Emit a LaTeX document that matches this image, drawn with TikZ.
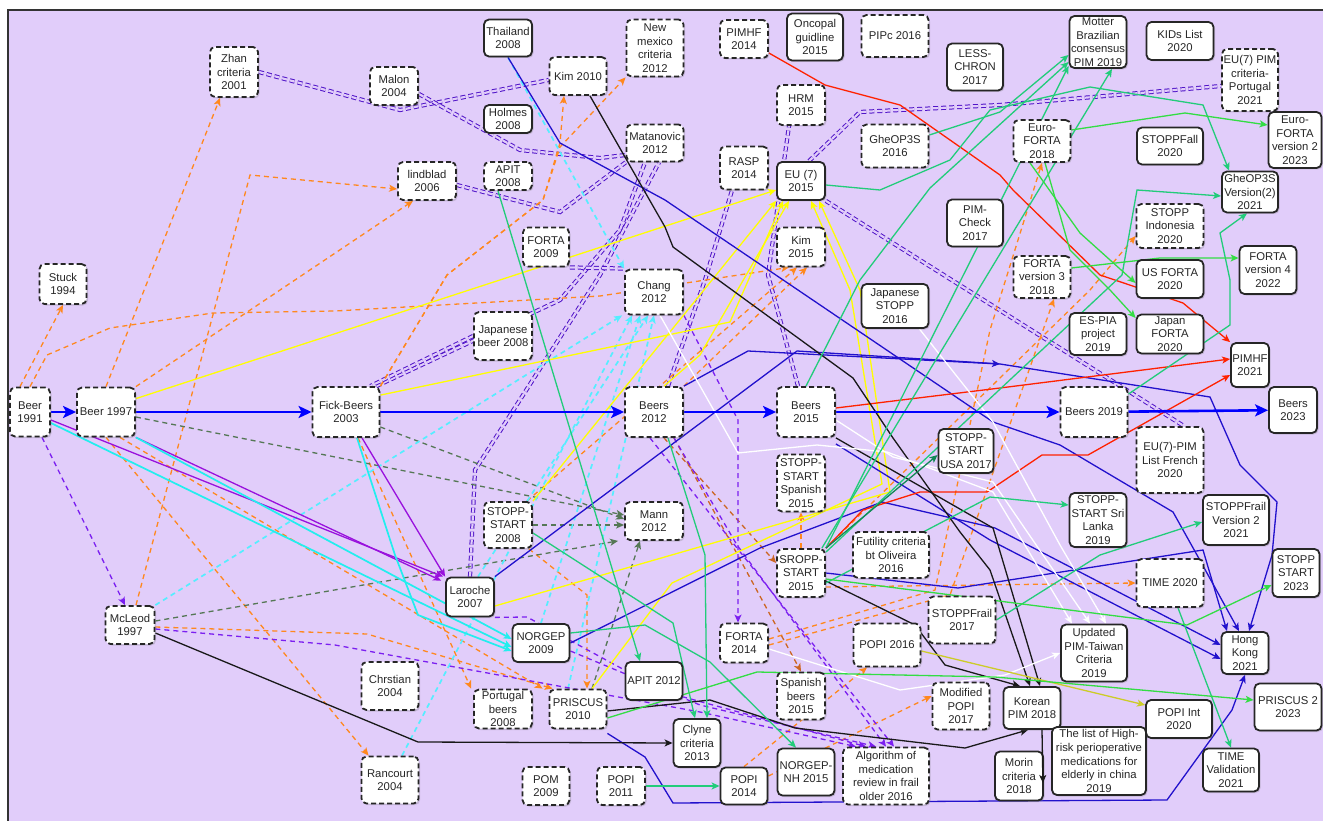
\documentclass[tikz,border=0pt]{standalone}
\usepackage{fontspec}
\setmainfont{Liberation Sans}
\usetikzlibrary{arrows.meta,shadows}
\pgfdeclarelayer{back}
\pgfdeclarelayer{edges}
\pgfsetlayers{back,edges,main}
\definecolor{lav}{RGB}{225,205,250}
\definecolor{bigblue}{RGB}{0,0,255}
\definecolor{lnblue}{RGB}{34,17,204}
\definecolor{lnred}{RGB}{255,34,0}
\definecolor{lnyel}{RGB}{255,255,0}
\definecolor{lnteal}{RGB}{34,204,122}
\definecolor{lngreen}{RGB}{51,221,68}
\definecolor{lndkgr}{RGB}{17,136,85}
\definecolor{lncyan}{RGB}{34,238,238}
\definecolor{lncyd}{RGB}{85,238,255}
\definecolor{lnviol}{RGB}{153,17,221}
\definecolor{lnpur}{RGB}{80,20,200}
\definecolor{lnvd}{RGB}{123,31,240}
\definecolor{lnor}{RGB}{255,136,30}
\definecolor{lnbr}{RGB}{204,102,34}
\definecolor{lngray}{RGB}{85,119,85}
\definecolor{lnolive}{RGB}{204,204,40}
\tikzset{
  >={Stealth[length=8pt,width=7pt,inset=2pt]},
  box/.style={rounded corners=5pt, fill=white, align=center, inner sep=1pt, text=black!85, line width=1.8pt,
    font=\fontsize{11.3}{13.6}\selectfont, drop shadow={shadow xshift=1.5pt, shadow yshift=-1.5pt, opacity=.3}},
  dbox/.style={box, draw=black!85, dash pattern=on 5pt off 3pt},
  sbox/.style={box, draw=black!85},
  sz/.style 2 args={minimum width=#1, minimum height=#2},
  lk/.style={line width=1.3pt, ->},
  bigarr/.style={draw=bigblue, line width=2.6pt, -{Stealth[length=13pt,width=12pt,inset=3pt]}},
  bl/.style={lk, draw=lnblue},
  rd/.style={lk, draw=lnred},
  bk/.style={lk, draw=black!90},
  wh/.style={lk, draw=white},
  yl/.style={lk, draw=lnyel},
  gn/.style={lk, draw=lnteal},
  lg/.style={lk, draw=lngreen},
  dg/.style={lk, draw=lndkgr},
  cy/.style={lk, draw=lncyan, line width=1.7pt},
  cyd/.style={lk, draw=lncyd, line width=1.7pt, dash pattern=on 5pt off 4pt},
  vi/.style={lk, draw=lnviol},
  pd/.style={draw=lnpur, line width=1pt, double=lav, double distance=2.2pt, dash pattern=on 5pt off 3pt},
  vd/.style={lk, draw=lnvd, dash pattern=on 5pt off 4pt},
  od/.style={lk, draw=lnor, dash pattern=on 5pt off 4pt},
  bd/.style={lk, draw=lnbr, dash pattern=on 5pt off 4pt},
  gd/.style={lk, draw=lngray, dash pattern=on 5pt off 4pt},
  ol/.style={lk, draw=lnolive}
}
\begin{document}
\begin{tikzpicture}[x=1pt, y=-1pt]
\useasboundingbox (0,0) rectangle (1323,821);
\begin{pgfonlayer}{back}
\fill[white] (0,0) rectangle (1323,821);
\fill[lav] (8,10) rectangle (1323,821);
\draw[black!80, line width=1.6pt] (8,821) -- (8,10) -- (1323,10);
\end{pgfonlayer}

\node[dbox, sz={40}{49}] (b91) at (30,412) {Beer\\1991};
\node[dbox, sz={58}{49}] (b97) at (106,412) {Beer 1997};
\node[dbox, sz={47}{40}] (stuck) at (63,284) {Stuck\\1994};
\node[dbox, sz={48}{50}] (zhan) at (234,72) {Zhan\\criteria\\2001};
\node[dbox, sz={48}{38}] (malon) at (394,86) {Malon\\2004};
\node[sbox, sz={48}{37}] (thai) at (508,38) {Thailand\\2008};
\node[dbox, sz={57}{38}] (kim10) at (578,76) {Kim 2010};
\node[dbox, sz={57}{57}] (nmex) at (655,48) {New\\mexico\\criteria\\2012};
\node[sbox, sz={48}{28}] (holmes) at (508,119) {Holmes\\2008};
\node[dbox, sz={57}{37}] (matan) at (655,143) {Matanovic\\2012};
\node[dbox, sz={58}{38}] (lind) at (427,181) {lindblad\\2006};
\node[dbox, sz={48}{28}] (apit08) at (508,176) {APIT\\2008};
\node[dbox, sz={46}{39}] (forta09) at (546,247) {FORTA\\2009};
\node[dbox, sz={48}{38}] (pimhf14) at (744,39) {PIMHF\\2014};
\node[sbox, sz={56}{47}] (oncopal) at (815,37) {Oncopal\\guidline\\2015};
\node[dbox, sz={67}{42}] (pipc) at (895,36) {PIPc 2016};
\node[sbox, sz={56}{47}] (less) at (975,67) {LESS-\\CHRON\\2017};
\node[dbox, sz={48}{40}] (hrm) at (801,105) {HRM\\2015};
\node[dbox, sz={67}{43}] (gheop16) at (895,146) {GheOP3S\\2016};
\node[dbox, sz={48}{43}] (rasp) at (744,168) {RASP\\2014};
\node[sbox, sz={48}{38}] (eu15) at (801,181) {EU (7)\\2015};
\node[dbox, sz={48}{39}] (kim15) at (801,247) {Kim\\2015};
\node[sbox, sz={56}{47}] (pimcheck) at (975,223) {PIM-\\Check\\2017};
\node[sbox, sz={57}{52}] (motter) at (1098,42) {Motter\\Brazilian\\consensus\\PIM 2019};
\node[sbox, sz={67}{38}] (kids) at (1180,41) {KIDs List\\2020};
\node[dbox, sz={56}{62}] (euport) at (1250,80) {EU(7) PIM\\criteria-\\Portugal\\2021};
\node[dbox, sz={57}{42}] (eurof18) at (1042,141) {Euro-\\FORTA\\2018};
\node[sbox, sz={66}{37}] (stoppfall) at (1170,146) {STOPPFall\\2020};
\node[sbox, sz={53}{56}] (eurof23) at (1295,140) {Euro-\\FORTA\\version 2\\2023};
\node[sbox, sz={56}{41}] (gheop21) at (1250,192) {GheOP3S\\Version(2)\\2021};
\node[dbox, sz={67}{44}] (stoppind) at (1170,226) {STOPP\\Indonesia\\2020};
\node[dbox, sz={57}{42}] (forta3) at (1042,277) {FORTA\\version 3\\2018};
\node[sbox, sz={67}{38}] (usforta) at (1170,279) {US FORTA\\2020};
\node[sbox, sz={57}{48}] (forta4) at (1268,270) {FORTA\\version 4\\2022};
\node[sbox, sz={57}{42}] (espia) at (1098,334) {ES-PIA\\project\\2019};
\node[sbox, sz={67}{39}] (japforta) at (1170,334) {Japan\\FORTA\\2020};
\node[sbox, sz={38}{44}] (pimhf21) at (1250,365) {PIMHF\\2021};
\node[sbox, sz={48}{46}] (b23) at (1293,410) {Beers\\2023};
\node[dbox, sz={67}{50}] (b19) at (1094,412) {Beers 2019};
\node[dbox, sz={67}{66}] (eufr) at (1170,460) {EU(7)-PIM\\List French\\2020};
\node[sbox, sz={57}{54}] (srilanka) at (1098,520) {STOPP-\\START Sri\\Lanka\\2019};
\node[sbox, sz={66}{50}] (frail21) at (1236,520) {STOPPFrail\\Version 2\\2021};
\node[sbox, sz={47}{48}] (ss23) at (1296,573) {STOPP\\START\\2023};
\node[dbox, sz={67}{48}] (time20) at (1170,583) {TIME 2020};
\node[sbox, sz={47}{42}] (hk) at (1245,653) {Hong\\Kong\\2021};
\node[sbox, sz={67}{47}] (priscus2) at (1288,707) {PRISCUS 2\\2023};
\node[sbox, sz={66}{57}] (taiwan) at (1094,653) {Updated\\PIM-Taiwan\\Criteria\\2019};
\node[sbox, sz={57}{42}] (korean) at (1032,708) {Korean\\PIM 2018};
\node[sbox, sz={66}{38}] (popiint) at (1179,719) {POPI Int\\2020};
\node[sbox, sz={94}{68}] (china) at (1099,761) {The list of High-\\risk perioperative\\medications for\\elderly in china\\2019};
\node[sbox, sz={48}{49}] (morin) at (1019,776) {Morin\\criteria\\2018};
\node[sbox, sz={56}{43}] (timeval) at (1231,770) {TIME\\Validation\\2021};
\node[sbox, sz={67}{44}] (japstopp) at (895,306) {Japanese\\STOPP\\2016};
\node[dbox, sz={58}{50}] (b15) at (806,412) {Beers\\2015};
\node[sbox, sz={55}{44}] (ssusa) at (966,451) {STOPP-\\START\\USA 2017};
\node[dbox, sz={48}{57}] (ssspan) at (801,483) {STOPP-\\START\\Spanish\\2015};
\node[dbox, sz={76}{46}] (futil) at (891,555) {Futility criteria\\bt Oliveira\\2016};
\node[dbox, sz={48}{48}] (sropp) at (801,573) {SROPP-\\START\\2015};
\node[dbox, sz={67}{47}] (frail17) at (962,620) {STOPPFrail\\2017};
\node[dbox, sz={48}{39}] (forta14) at (744,643) {FORTA\\2014};
\node[dbox, sz={67}{43}] (popi16) at (887,645) {POPI 2016};
\node[dbox, sz={48}{47}] (spbeers) at (801,696) {Spanish\\beers\\2015};
\node[dbox, sz={57}{47}] (modpopi) at (961,706) {Modified\\POPI\\2017};
\node[sbox, sz={47}{48}] (clyne) at (697,743) {Clyne\\criteria\\2013};
\node[sbox, sz={47}{37}] (popi14) at (744,786) {POPI\\2014};
\node[sbox, sz={57}{47}] (norgepnh) at (806,772) {NORGEP-\\NH 2015};
\node[dbox, sz={86}{57}] (algo) at (886,776) {Algorithm of\\medication\\review in frail\\older 2016};
\node[sbox, sz={48}{39}] (laroche) at (470,597) {Laroche\\2007};
\node[sbox, sz={57}{38}] (norgep) at (541,643) {NORGEP\\2009};
\node[dbox, sz={57}{48}] (chr) at (390,686) {Chrstian\\2004};
\node[dbox, sz={58}{39}] (portb) at (503,709) {Portugal\\beers\\2008};
\node[dbox, sz={57}{39}] (priscus) at (578,709) {PRISCUS\\2010};
\node[sbox, sz={57}{38}] (apit12) at (654,681) {APIT 2012};
\node[dbox, sz={57}{47}] (ranc) at (390,780) {Rancourt\\2004};
\node[dbox, sz={47}{38}] (pom) at (546,786) {POM\\2009};
\node[dbox, sz={48}{38}] (popi11) at (621,786) {POPI\\2011};
\node[dbox, sz={49}{38}] (mcleod) at (130,625) {McLeod\\1997};
\node[dbox, sz={67}{50}] (fick) at (346,412) {Fick-Beers\\2003};
\node[dbox, sz={58}{50}] (b12) at (654,412) {Beers\\2012};
\node[dbox, sz={58}{45}] (chang) at (654,292) {Chang\\2012};
\node[dbox, sz={58}{48}] (japb) at (503,336) {Japanese\\beer 2008};
\node[dbox, sz={48}{46}] (ss08) at (508,525) {STOPP-\\START\\2008};
\node[dbox, sz={58}{38}] (mann) at (654,521) {Mann\\2012};

\begin{pgfonlayer}{edges}
\draw[pd] (zhan.east) -- (400,110) -- ([yshift=-4pt]kim10.west);
\draw[pd] ([yshift=-8pt]malon.east) -- (520,150) -- (600,158) -- ([yshift=-12pt]matan.west);
\draw[pd] ([yshift=-4pt]lind.east) -- (560,212) -- (matan.south west);
\draw[pd] ([xshift=-4pt]fick.north east) -- (560,300) -- (620,230) -- ([xshift=-10pt]matan.south);
\draw[pd] (japb.west) -- ([xshift=-10pt]fick.north east);
\draw[pd] (laroche.north) -- (475,470) -- (600,275) -- ([xshift=4pt]matan.south);
\draw[pd] ([xshift=-8pt]b15.north) -- (768,275) -- ([xshift=-12pt]hrm.south);
\draw[pd] ([xshift=14pt]b12.north) -- (705,280) -- ([xshift=-12pt]rasp.south);
\draw[pd] ([xshift=8pt]eu15.north) -- (860,112) -- (1000,105) -- ([yshift=-6pt]euport.west);
\draw[pd] (eu15.south east) -- ([xshift=14pt]eufr.north);
\draw[pd] (forta09.south east) -- (chang.north west);

\draw[od] ([xshift=-10pt]b91.north) -- (stuck.south);
\draw[od] (b91.north) -- (47,355) -- (110,328) -- (213,313) -- (335,311) -- (600,296) -- ([xshift=-12pt]kim15.south);
\draw[od] (b97.north) -- ([xshift=-14pt]zhan.south);
\draw[od] ([xshift=6pt]mcleod.north) -- (250,175) -- ([yshift=-8pt]lind.west);
\draw[od] (b97.north east) -- ([xshift=-14pt]lind.south);
\draw[od] (b97.south) -- ([xshift=8pt]ranc.north west);
\draw[od] ([xshift=14pt]b97.south) -- ([xshift=-6pt]priscus.north west);
\draw[od] ([xshift=12pt]fick.south) -- ([xshift=-2pt]portb.north west);
\draw[od] ([yshift=-2pt]mcleod.east) -- (367,634) -- ([xshift=4pt]priscus.north west);
\draw[od] ([xshift=-4pt]ss08.south east) -- (587,595) -- ([xshift=9pt]priscus.north);
\draw[od] (fick.north east) -- (447,275) -- (543,200) -- (560,147) -- (nmex.south west);
\draw[od] (fick.north east) -- (447,275) -- (543,200) -- (560,143) -- ([xshift=-14pt]kim10.south);
\draw[od] ([xshift=-6pt]ss08.north east) -- ([xshift=-4pt]kim15.south);
\draw[od] (b12.north east) -- ([xshift=6pt]kim15.south);
\draw[od] (sropp.north) -- (ssspan.south);
\draw[od] ([yshift=4pt]forta14.east) -- (935,590) -- (990,330) -- (eurof18.south);
\draw[od] ([yshift=-2pt]forta14.east) -- (950,595) -- ([xshift=12pt]forta3.south);
\draw[od] (sropp.north east) -- (1090,290) -- ([yshift=-10pt]stoppind.west);
\draw[od] ([yshift=-14pt]sropp.east) -- (time20.west);
\draw[od] ([yshift=10pt]popi14.east) -- ([yshift=10pt]modpopi.west);
\draw[od] (popi14.north) -- ([xshift=-20pt]popi16.south);
\draw[bd] ([xshift=10pt]b12.south) -- ([yshift=10pt]sropp.west);
\draw[bd] ([xshift=20pt]b12.south) -- (spbeers.north);

\draw[gd] ([yshift=-5pt]b97.east) -- ([yshift=6pt]mann.west);
\draw[gd] ([yshift=-15pt]fick.east) -- ([yshift=2pt]mann.west);
\draw[gd] ([yshift=4pt]mcleod.east) -- ([xshift=-6pt]mann.south west);
\draw[gd] ([xshift=14pt]priscus.north) -- ([xshift=-14pt]mann.south);
\draw[gd] (ss08.east) -- ([yshift=-4pt]mann.west);

\draw[cyd] (mcleod.north east) -- ([xshift=-2pt]chang.south west);
\draw[cyd] ([xshift=12pt]ranc.north) -- ([xshift=8pt]chang.south west);
\draw[cyd] (norgep.north) -- ([xshift=16pt]chang.south west);
\draw[cyd] ([xshift=-10pt]priscus.north) -- (chang.south);
\draw[cyd] ([xshift=8pt]laroche.north) -- ([xshift=24pt]chang.south west);
\draw[cyd] (thai.south) -- (chang.north west);

\draw[vd] ([xshift=12pt]b91.south) -- ([xshift=-5pt]mcleod.north);
\draw[vd] (chang.south east) -- (738,420) -- ([xshift=-6pt]forta14.north);
\draw[vd] ([yshift=-4pt]mcleod.east) -- (335,645) -- (700,712) -- ([xshift=-30pt]algo.north);
\draw[vd] (laroche.south east) -- (527,617) -- (665,692) -- ([xshift=-20pt]algo.north);
\draw[vd] ([yshift=-8pt]norgep.east) -- (700,705) -- ([xshift=-10pt]algo.north);
\draw[vd] ([xshift=20pt]b12.south) -- (737,545) -- (algo.north);
\draw[vd] ([xshift=-4pt]b12.south) -- ([xshift=8pt]algo.north);

\draw[vi] ([yshift=-8pt]b91.east) -- ([xshift=-2pt]laroche.north west);
\draw[vi] (b97.south east) -- ([xshift=-4pt,yshift=-4pt]laroche.north west);
\draw[vi] ([xshift=16pt]fick.south) -- (laroche.north west);
\draw[cy] ([yshift=-11pt]b91.east) -- ([yshift=-4pt]norgep.west);
\draw[cy] (b97.south east) -- ([yshift=4pt]norgep.west);
\draw[cy] ([xshift=11pt]fick.south) -- (395,555) -- (418,615) -- ([yshift=-8pt]norgep.west);

\draw[yl] ([yshift=-12pt]b97.north east) -- ([yshift=-9pt]eu15.west);
\draw[yl] ([yshift=-9pt]fick.north east) -- (730,322) -- ([xshift=-18pt]eu15.south);
\draw[yl] (ss08.north east) -- (eu15.south west);
\draw[yl] ([xshift=10pt]b12.north) -- (700,355) -- ([xshift=-12pt]eu15.south);
\draw[yl] ([yshift=-9pt]laroche.east) -- (890,492) -- (860,290) -- ([xshift=18pt]eu15.south);
\draw[yl] ([xshift=14pt]priscus.north) -- (672,583) -- (882,484) -- (850,290) -- ([xshift=10pt]eu15.south);

\draw[bl] (thai.south) -- (560,143) -- (665,200) -- (993,422) -- (1060,445) -- (1173,512) -- (1197,555) -- ([xshift=-6pt]hk.north);
\draw[bl] (b12.north east) -- (748,351) -- (1000,364) -- (1210,397) -- (1240,465) -- (1277,502) -- (1272,555) -- ([xshift=4pt]hk.north);
\draw[bl] (laroche.north east) -- (797,351) -- (1000,364);
\draw[bl] (norgep.east) -- (760,548) -- (882,502) -- (995,528) -- ([yshift=8pt]hk.west);
\draw[bl] ([yshift=-4pt]priscus.south east) -- (645,757) -- (673,803) -- (1167,800) -- (1232,710) -- (hk.south);
\draw[bl] (sropp.east) -- (958,588) -- (1203,550) -- ([xshift=-18pt]hk.north);
\draw[bl] ([yshift=-6pt]b15.south east) -- (990,540) -- ([yshift=-6pt]hk.west);

\draw[rd] ([yshift=-14pt]pimhf14.east) -- (825,85) -- (900,105) -- (1000,175) -- (1013,190) -- (1100,275) -- (1183,303) -- (pimhf21.north west);
\draw[rd] ([yshift=4pt]b15.east) -- (1000,388) -- ([yshift=6pt]pimhf21.west);
\draw[rd] (sropp.north east) -- (863,510) -- (920,492) -- (987,492) -- (1042,455) -- (1088,455) -- ([yshift=-10pt]pimhf21.west);

\draw[bk] ([xshift=12pt]kim10.south) -- (665,227) -- (673,247) -- (853,378) -- (893,438) -- (960,532) -- (990,570) -- ([xshift=-2pt]korean.north);
\draw[bk] (b15.south east) -- (993,528) -- ([xshift=8pt]korean.north);
\draw[bk] ([yshift=-8pt]sropp.east) -- (915,625) -- (945,665) -- ([xshift=-12pt]korean.north);
\draw[bk] ([yshift=-8pt]mcleod.east) -- (418,742) -- (clyne.west);
\draw[bk] ([yshift=-2pt]priscus.east) -- (710,700) -- (795,728) -- (965,748) -- ([xshift=-4pt]korean.south);

\draw[wh] ([xshift=6pt]chang.south) -- (738,453) -- (817,445) -- (887,452) -- (993,492) -- ([xshift=-22pt]taiwan.north);
\draw[wh] ([xshift=-10pt]japstopp.south east) -- (993,422) -- (1060,545) -- ([xshift=12pt]taiwan.north);
\draw[wh] ([yshift=-8pt]b15.east) -- (893,457) -- (993,482) -- ([xshift=-4pt]taiwan.north);
\draw[wh] ([yshift=-6pt]forta14.east) -- (900,690) -- (1005,675) -- (taiwan.west);
\draw[ol] ([yshift=-6pt]popi16.east) -- ([yshift=14pt]popiint.west);

\draw[gn] ([yshift=-4pt]eu15.east) -- (880,190) -- (950,160) -- (990,110) -- (1090,87) -- (1203,105) -- ([xshift=8pt]gheop21.north west);
\draw[gn] ([yshift=11pt]gheop16.east) -- (1000,112) -- ([yshift=-13pt]motter.west);
\draw[gn] (b15.north) -- (860,280) -- (930,188) -- ([yshift=-20pt]motter.west);
\draw[gn] (sropp.north east) -- ([yshift=-24pt]motter.west);
\draw[gn] ([xshift=-4pt]sropp.north east) -- ([xshift=14pt]motter.south);
\draw[gn] ([yshift=-4pt]sropp.north east) -- (1122,275) -- (1137,190) -- ([yshift=-4pt]gheop21.west);
\draw[gn] ([yshift=-10pt]sropp.east) -- (990,497) -- ([yshift=15pt]srilanka.west);
\draw[gn] (frail17.east) -- (1100,555) -- ([yshift=-2pt]frail21.west);
\draw[gn] ([yshift=-8pt]b19.north east) -- (1230,325) -- (1230,280) -- (1220,233) -- ([xshift=-3pt]gheop21.south);
\draw[gn] ([xshift=8pt]time20.south) -- (timeval.north);
\draw[gn] (popi11) -- (popi14);
\draw[gn] ([xshift=-10pt]apit08.south) -- ([xshift=-14pt]apit12.north);
\draw[gn] ([xshift=14pt]b12.south) -- (705,555) -- ([xshift=10pt]clyne.north);
\draw[gn] ([yshift=-8pt]ss08.east) -- (673,623) -- ([xshift=-2pt]clyne.north);
\draw[gn] ([yshift=10pt]norgep.east) -- (645,625) -- (710,662) -- ([xshift=-10pt]norgepnh.north);
\draw[lg] ([yshift=-6pt]sropp.east) -- (1187,625) -- ([yshift=-12pt]ss23.west);
\draw[lg] ([yshift=-9pt]priscus.east) -- (757,672) -- (995,677) -- ([yshift=7pt]priscus2.west);
\draw[lg] ([yshift=11pt]eurof18.east) -- (1185,113) -- ([yshift=15pt]eurof23.west);
\draw[lg] ([yshift=9pt]forta3.east) -- (1160,258) -- ([yshift=12pt]forta4.west);
\draw[lg] ([xshift=-12pt]eurof18.south) -- (1080,233) -- ([yshift=-4pt]usforta.west);
\draw[lg] ([xshift=3pt]eurof18.south) -- (1070,250) -- (1110,290) -- ([yshift=16pt]japforta.west);
\draw[dg] (sropp.north east) -- ([yshift=-4pt]ssusa.west);

\draw[bigarr] (b91) -- (b97);
\draw[bigarr] (b97) -- (fick);
\draw[bigarr] (fick) -- (b12);
\draw[bigarr] (b12) -- (b15);
\draw[bigarr] (b15) -- (b19);
\draw[bigarr] (b19) -- (b23);
\end{pgfonlayer}

\draw[bk] ([xshift=10pt]korean.south) -- ([xshift=-1pt,yshift=-7pt]morin.east);
\end{tikzpicture}
\end{document}
